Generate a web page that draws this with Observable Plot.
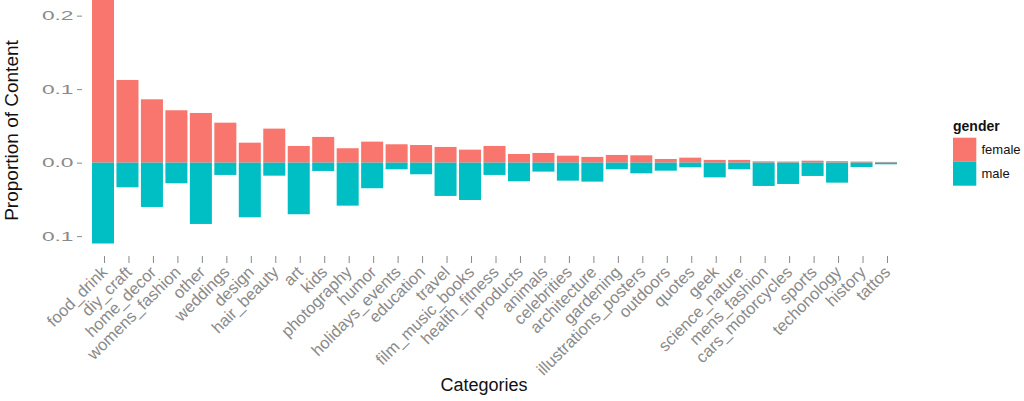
<!DOCTYPE html>
<html>
<head>
<meta charset="utf-8">
<script src="https://cdn.jsdelivr.net/npm/d3@7"></script>
<script src="https://cdn.jsdelivr.net/npm/@observablehq/plot@0.6"></script>
<style>
  html, body { margin: 0; padding: 0; background: #fff; }
  body { font-family: "Liberation Sans", Helvetica, Arial, sans-serif; }
  #wrap { position: relative; width: 1024px; height: 401px; overflow: hidden; }
  #legend { position: absolute; left: 940px; top: 110px; }
</style>
</head>
<body>
<div id="wrap">
  <div id="chart"></div>
  <svg id="legend" width="84" height="90" font-family="'Liberation Sans', Helvetica, Arial, sans-serif"></svg>
</div>
<script>
const categories = ["food_drink","diy_craft","home_decor","womens_fashion","other","weddings","design","hair_beauty","art","kids","photography","humor","holidays_events","education","travel","film_music_books","health_fitness","products","animals","celebrities","architecture","gardening","illustrations_posters","outdoors","quotes","geek","science_nature","mens_fashion","cars_motorcycles","sports","techonology","history","tattos"];
const femaleValues = [0.245,0.1125,0.0862,0.0713,0.0676,0.0544,0.0272,0.0463,0.0227,0.035,0.0196,0.0286,0.025,0.024,0.0214,0.0177,0.0227,0.0118,0.0132,0.0095,0.0078,0.0105,0.010,0.005,0.0068,0.0037,0.0037,0.0018,0.0015,0.0027,0.002,0.0015,0.001];
const maleValues = [0.110,0.0335,0.0603,0.028,0.0834,0.0167,0.0743,0.0177,0.0702,0.0113,0.0585,0.0348,0.009,0.0158,0.0453,0.0508,0.0167,0.0253,0.0122,0.0245,0.0258,0.009,0.0145,0.0109,0.0063,0.020,0.009,0.0317,0.029,0.0181,0.0272,0.0059,0.0022];
const genders = ["female","male"];
const genderColors = ["#F8766D","#00BFC4"];
const yTicks = [-0.1, 0, 0.1, 0.2];

const rows = [];
categories.forEach((c, i) => {
  rows.push({category: c, gender: "female", value: femaleValues[i]});
  rows.push({category: c, gender: "male", value: -maleValues[i]});
});

const gray = "#8a8a8a";
const plot = Plot.plot({
  width: 1024,
  height: 401,
  marginLeft: 88,
  marginRight: 123,
  marginTop: 0,
  marginBottom: 145,
  style: {fontFamily: "'Liberation Sans', Helvetica, Arial, sans-serif", background: "#fff"},
  x: {domain: categories, paddingInner: 0.1, paddingOuter: 0.163, round: false},
  y: {domain: [-0.127, 0.2213]},
  color: {domain: genders, range: genderColors},
  marks: [
    Plot.rectY(rows, {x: "category", y1: 0, y2: "value", fill: "gender", clip: true}),
    Plot.axisY({ticks: yTicks, tickFormat: d => Math.abs(d).toFixed(1), tickSize: 5, dx: -6, tickPadding: 4, fontSize: 13, color: gray, label: null}),
    Plot.axisX({tickRotate: -45, tickSize: 7, tickPadding: 6, dx: 1, fontSize: 16.5, color: gray, label: null}),
    Plot.text(["Categories"], {frameAnchor: "bottom", dy: 134, dx: -11, fontSize: 18, fill: "#111"}),
    Plot.text(["Proportion of Content"], {frameAnchor: "left", textAnchor: "middle", lineAnchor: "middle", dx: -76.5, dy: 2, rotate: -90, fontSize: 19, fill: "#111"})
  ]
});

document.getElementById("chart").appendChild(plot);

// horizontally stretch the y tick labels (about their right edge) as in the reference
plot.querySelectorAll('g[aria-label="y-axis tick label"] text').forEach(t => {
  const b = t.getBBox();
  const r = b.x + b.width;
  const tr = t.getAttribute("transform") || "";
  t.setAttribute("transform", `${tr} translate(${r},0) scale(1.75,1) translate(${-r},0)`);
});

// legend
const lg = d3.select("#legend");
lg.append("text").attr("x", 13).attr("y", 21).attr("font-size", 14).attr("font-weight", "bold").attr("fill", "#111").text("gender");
genders.forEach((g, i) => {
  lg.append("rect").attr("x", 13).attr("y", 27.7 + i * 24).attr("width", 23.3).attr("height", 24).attr("fill", genderColors[i]);
  lg.append("text").attr("x", 41.5).attr("y", 44.4 + i * 23.5).attr("font-size", 13).attr("fill", "#111").text(g);
});
</script>
</body>
</html>
